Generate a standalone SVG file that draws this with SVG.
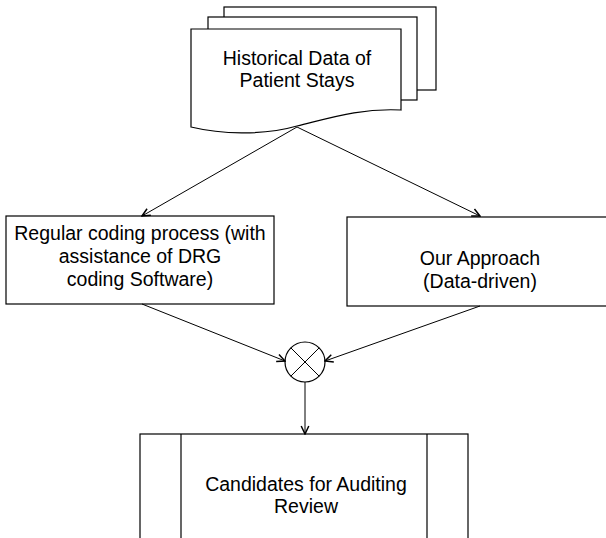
<svg xmlns="http://www.w3.org/2000/svg" width="606" height="538" viewBox="0 0 606 538">
  <style>
    .shape { fill: #ffffff; stroke: #000000; stroke-width: 1.2; }
    .label { font-family: "Liberation Sans", Arial, Helvetica, sans-serif; font-size: 19.5px; fill: #000000; text-anchor: middle; }
    .edge { fill: none; stroke: #000000; stroke-width: 1; }
  </style>
  <defs>
    <marker id="open-arrow" viewBox="0 0 10 10" refX="9" refY="5" markerWidth="10" markerHeight="10" markerUnits="userSpaceOnUse" orient="auto">
      <path d="M1,1.2 L9,5 L1,8.8" fill="none" stroke="#000000" stroke-width="1.5"/>
    </marker>
  </defs>
  <rect width="606" height="538" fill="#ffffff"/>

  <!-- stacked documents -->
  <g id="historical-data">
    <rect class="shape" x="224" y="7" width="212" height="83"/>
    <rect class="shape" x="208" y="17" width="209" height="83"/>
    <path class="shape" d="M191,29 H401 V110 C360,108 330,118 297,126 C262,136 220,134 191,127 Z"/>
    <text class="label" x="297" y="65">Historical Data of</text>
    <text class="label" x="297" y="87">Patient Stays</text>
  </g>

  <g id="regular-coding">
    <rect class="shape" x="6" y="216" width="268" height="88"/>
    <text class="label" x="140" y="240">Regular coding process (with</text>
    <text class="label" x="140" y="263">assistance of DRG</text>
    <text class="label" x="140" y="286">coding Software)</text>
  </g>

  <g id="our-approach">
    <rect class="shape" x="347" y="217" width="266" height="89"/>
    <text class="label" x="480" y="265">Our Approach</text>
    <text class="label" x="480" y="288">(Data-driven)</text>
  </g>

  <g id="combine">
    <circle class="shape" cx="305" cy="362" r="20"/>
    <line class="edge" x1="290.9" y1="347.9" x2="319.1" y2="376.1"/>
    <line class="edge" x1="319.1" y1="347.9" x2="290.9" y2="376.1"/>
  </g>

  <g id="audit-candidates">
    <rect class="shape" x="140" y="434" width="328" height="120"/>
    <line class="shape" x1="181" y1="434" x2="181" y2="554"/>
    <line class="shape" x1="427" y1="434" x2="427" y2="554"/>
    <text class="label" x="306" y="491">Candidates for Auditing</text>
    <text class="label" x="306" y="513">Review</text>
  </g>

  <g id="connectors">
    <line class="edge" x1="297" y1="127" x2="142" y2="216" marker-end="url(#open-arrow)"/>
    <line class="edge" x1="297" y1="127" x2="480" y2="216" marker-end="url(#open-arrow)"/>
    <line class="edge" x1="142" y1="304" x2="285" y2="361" marker-end="url(#open-arrow)"/>
    <line class="edge" x1="480" y1="306" x2="325" y2="361" marker-end="url(#open-arrow)"/>
    <line class="edge" x1="305" y1="382" x2="305" y2="434" marker-end="url(#open-arrow)"/>
  </g>
</svg>
